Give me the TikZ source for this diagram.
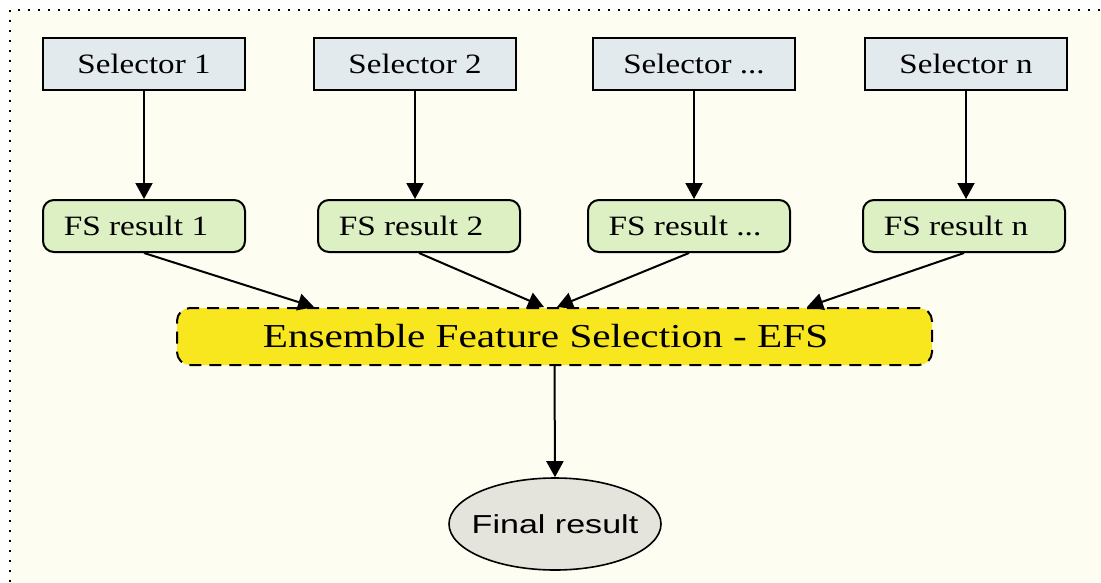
\documentclass[tikz,border=0pt]{standalone}
\usepackage{graphicx}
\usepackage{fontspec}
\setmainfont{Liberation Serif}
\newfontfamily\labelsans{Liberation Sans}
\usetikzlibrary{arrows.meta,shapes.geometric,calc}

\definecolor{pagebg}{HTML}{FDFDF1}
\definecolor{selfill}{HTML}{E2EAEE}
\definecolor{fsfill}{HTML}{DDF0C3}
\definecolor{efsfill}{HTML}{F8E61E}
\definecolor{finalfill}{HTML}{E4E4DD}

\newcommand{\widetext}[2]{\scalebox{#1}[1]{#2}}

\tikzset{
  x=1pt, y=-1pt,
  selbox/.style={draw=black, line width=2pt, fill=selfill, rectangle,
    minimum width=202pt, minimum height=52pt, inner sep=0pt,
    font=\fontsize{28}{30}\selectfont},
  fsbox/.style={draw=black, line width=2pt, fill=fsfill, rectangle,
    rounded corners=11pt, minimum width=202pt, minimum height=52pt,
    inner sep=0pt, font=\fontsize{28}{30}\selectfont},
  efsbox/.style={draw=black, line width=2pt, fill=efsfill, rectangle,
    rounded corners=13pt, dash pattern=on 12pt off 8pt,
    minimum width=755pt, minimum height=57pt, inner sep=0pt,
    font=\fontsize{33.5}{36}\selectfont},
  finalbox/.style={draw=black, line width=1.6pt, fill=finalfill, ellipse,
    minimum width=212pt, minimum height=92pt, inner sep=0pt,
    font=\labelsans\fontsize{26}{28}\selectfont},
  link/.style={line width=2pt, -{Triangle[length=16pt,width=17pt]}},
}

\begin{document}
\begin{tikzpicture}
  % canvas and dotted frame
  \useasboundingbox (0,0) rectangle (1101,582);
  \fill[white] (0,0) rectangle (1101,582);
  \fill[pagebg] (10,10) rectangle (1101,582);
  \draw[line width=2pt, dash pattern=on 2pt off 8pt] (10,582) -- (10,10) -- (1101,10);

  % selectors
  \node[selbox] (sel1) at (144,64) {\widetext{1.18}{Selector 1}};
  \node[selbox] (sel2) at (415,64) {\widetext{1.18}{Selector 2}};
  \node[selbox] (sel3) at (694,64) {\widetext{1.18}{Selector ...}};
  \node[selbox] (seln) at (966,64) {\widetext{1.18}{Selector n}};

  % feature selection results (labels sit a little left of centre)
  \node[fsbox] (fs1) at (144,226) {\hspace*{-16pt}\widetext{1.19}{FS result 1}};
  \node[fsbox] (fs2) at (419,226) {\hspace*{-16pt}\widetext{1.19}{FS result 2}};
  \node[fsbox] (fs3) at (689,226) {\hspace*{-8pt}\widetext{1.19}{FS result ...}};
  \node[fsbox] (fsn) at (964,226) {\hspace*{-16pt}\widetext{1.19}{FS result n}};

  % ensemble step
  \node[efsbox] (efs) at (554.5,336.5) {\hspace*{-18pt}\widetext{1.23}{Ensemble Feature Selection - EFS}};

  % final output (label boxed at zero width so the ellipse keeps its size)
  \node[finalbox] (final) at (555,524) {\makebox[0pt]{\widetext{1.31}{Final result}}};

  % selector -> result
  \draw[link] (sel1.south) -- (sel1.south |- fs1.north);
  \draw[link] (sel2.south) -- (sel2.south |- fs2.north);
  \draw[link] (sel3.south) -- (sel3.south |- fs3.north);
  \draw[link] (seln.south) -- (seln.south |- fsn.north);

  % results -> ensemble
  \coordinate (in1) at ([xshift=138pt]efs.north west);
  \coordinate (in2) at ([xshift=368pt]efs.north west);
  \coordinate (in3) at ([xshift=381pt]efs.north west);
  \coordinate (inn) at ([xshift=631pt]efs.north west);
  \draw[link] (fs1.south) -- (in1);
  \draw[link] (fs2.south) -- (in2);
  \draw[link] (fs3.south) -- (in3);
  \draw[link] (fsn.south) -- (inn);

  % ensemble -> final
  \draw[link] (efs.south) -- (final.north);
\end{tikzpicture}
\end{document}
